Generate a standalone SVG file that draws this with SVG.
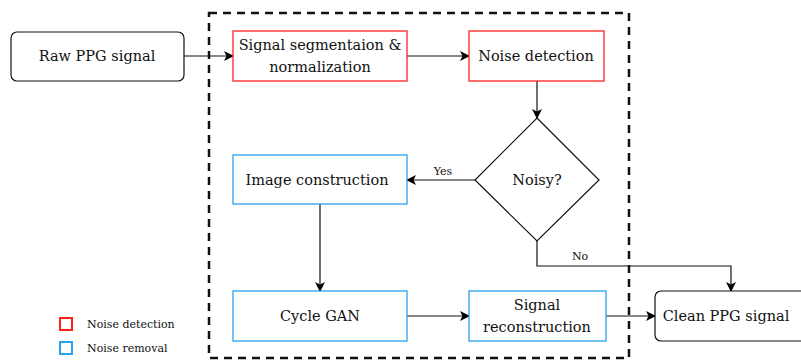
<svg xmlns="http://www.w3.org/2000/svg" width="801" height="360" viewBox="0 0 801 360">
<defs>
<marker id="arr" viewBox="0 0 10 10" refX="9" refY="5" markerWidth="10" markerHeight="10" markerUnits="userSpaceOnUse" orient="auto">
<path d="M0,0 L10,5 L0,10 L2.5,5 Z" fill="#000"/>
</marker>
<style>
text{fill:#111;text-anchor:middle;dominant-baseline:central;font-family:"DejaVu Serif","Liberation Serif",serif}
.t{font-size:14.5px}
.s{font-size:11px}
.red{fill:#fff;stroke:#ff2020;stroke-width:1.3}
.blue{fill:#fff;stroke:#2aa0f0;stroke-width:1.3}
.term{fill:#fff;stroke:#111;stroke-width:1.2}
.c{fill:none;stroke:#111;stroke-width:1.2;marker-end:url(#arr)}
</style>
</defs>
<rect x="0" y="0" width="801" height="360" fill="#fff"/>
<rect id="boundary" x="209" y="13" width="420" height="345" fill="none" stroke="#111" stroke-width="2.5" stroke-dasharray="8,6"/>
<g id="connectors">
<path class="c" d="M184,56 L233,56"/>
<path class="c" d="M407,56 L469,56"/>
<path class="c" d="M537,81 L537,118"/>
<path class="c" d="M475,180 L407,180"/>
<path class="c" d="M320,204 L320,291"/>
<path class="c" d="M407,316 L469,316"/>
<path class="c" d="M606,316 L655,316"/>
<path class="c" d="M537,241 L537,266 L731,266 L731,291"/>
<text class="s" x="443" y="171">Yes</text>
<text class="s" x="580" y="256">No</text>
</g>
<g id="raw"><rect class="term" x="11" y="32" width="173" height="49" rx="6"/><text class="t" x="97" y="56">Raw PPG signal</text></g>
<g id="seg"><rect class="red" x="233" y="31" width="174" height="50"/><text class="t" x="320" y="45">Signal segmentaion &amp;</text><text class="t" x="320" y="67">normalization</text></g>
<g id="noisedet"><rect class="red" x="469" y="31" width="135" height="50"/><text class="t" x="536" y="56">Noise detection</text></g>
<g id="noisy"><polygon class="term" points="537,118 599,180 537,241 475,180"/><text class="t" x="537" y="180">Noisy?</text></g>
<g id="imgcon"><rect class="blue" x="233" y="155" width="174" height="49"/><text class="t" x="317" y="180">Image construction</text></g>
<g id="gan"><rect class="blue" x="233" y="291" width="174" height="50"/><text class="t" x="320" y="316">Cycle GAN</text></g>
<g id="recon"><rect class="blue" x="469" y="291" width="137" height="50"/><text class="t" x="537" y="305">Signal</text><text class="t" x="537" y="327">reconstruction</text></g>
<g id="clean"><rect class="term" x="655" y="291" width="152" height="50" rx="6"/><text class="t" x="726" y="316">Clean PPG signal</text></g>
<g id="legend">
<rect x="60" y="318" width="12" height="12" fill="#fff" stroke="#ff2020" stroke-width="2"/>
<text class="s" x="87" y="324" style="text-anchor:start">Noise detection</text>
<rect x="60" y="342" width="12" height="12" fill="#fff" stroke="#2aa0f0" stroke-width="2"/>
<text class="s" x="87" y="348" style="text-anchor:start">Noise removal</text>
</g>
</svg>
